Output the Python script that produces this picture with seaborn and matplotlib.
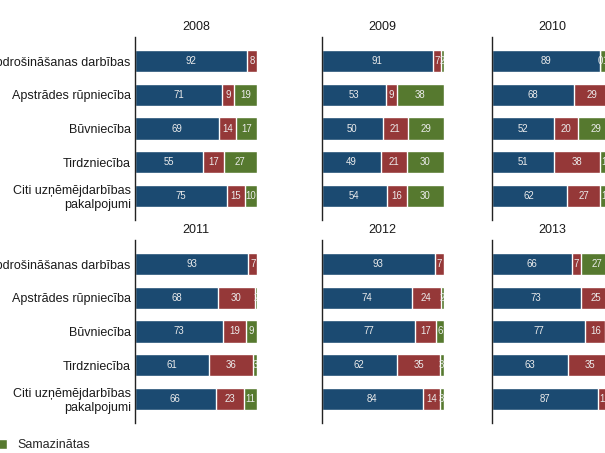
import numpy as np
import pandas as pd
import matplotlib
matplotlib.use("Agg")
import matplotlib.pyplot as plt
import seaborn as sns
from matplotlib.patches import Patch

# ---- data ----
categories = ["Finanšu un apdrošināšanas darbības", "Apstrādes rūpniecība", "Būvniecība",
              "Tirdzniecība", "Citi uzņēmējdarbības\npakalpojumi"]
years = ["2008", "2009", "2010", "2011", "2012", "2013"]
series_names = ["Nemainīgas", "Palielinātas", "Samazinātas"]

nemainigas = [[92, 71, 69, 55, 75], [91, 53, 50, 49, 54], [89, 68, 52, 51, 62],
              [93, 68, 73, 61, 66], [93, 74, 77, 62, 84], [66, 73, 77, 63, 87]]
palielinatas = [[8, 9, 14, 17, 15], [7, 9, 21, 21, 16], [0.4, 29, 20, 38, 27],
                [7, 30, 19, 36, 23], [7, 24, 17, 35, 14], [7, 25, 16, 35, 12]]
samazinatas = [[0, 19, 17, 27, 10], [2, 38, 29, 30, 30], [11, 3, 29, 11, 11],
               [0, 2, 9, 3, 11], [0, 2, 6, 3, 3], [27, 2, 7, 2, 1]]

colors = ["#1b4a71", "#953838", "#56792f"]

sns.set_theme(style="white")
plt.rcParams["font.family"] = ["Liberation Sans", "DejaVu Sans"]

fig = plt.figure(figsize=(6.05, 4.53), dpi=100)
W, H = 605, 453
col_left = [135, 321.5, 491.5]
row_top = [37, 240]
ax_w, ax_h = 122, 183

for k, year in enumerate(years):
    r, c = divmod(k, 3)
    ax = fig.add_axes([col_left[c] / W, 1 - (row_top[r] + ax_h) / H, ax_w / W, ax_h / H])
    b = np.array(nemainigas[k], float)
    rd = np.array(palielinatas[k], float)
    g = np.array(samazinatas[k], float)
    tot = b + rd + g
    df = pd.DataFrame({"cat": categories,
                       "c1": b / tot * 100,
                       "c2": (b + rd) / tot * 100,
                       "c3": tot / tot * 100})
    for col, colr in zip(["c3", "c2", "c1"], colors[::-1]):
        sns.barplot(data=df, y="cat", x=col, color=colr, width=0.66, saturation=1,
                    errorbar=None, orient="h", ax=ax)
    # value labels
    lefts = [np.zeros(5), df["c1"].values, df["c2"].values]
    rights = [df["c1"].values, df["c2"].values, df["c3"].values]
    vals = [b, rd, g]
    for s in range(3):
        for i in range(5):
            if vals[s][i] == 0:
                continue
            ax.text((lefts[s][i] + rights[s][i]) / 2, i, f"{vals[s][i]:.0f}",
                    ha="center", va="center", color="#ececec", fontsize=6.9, clip_on=True)
    ax.set_xlim(0, 100)
    ax.set_ylim(4.72, -0.72)
    ax.set_xlabel("")
    ax.set_ylabel("")
    ax.set_xticks([])
    ax.tick_params(axis="y", length=0, pad=3, labelsize=9, labelcolor="#1a1a1a")
    if c != 0:
        ax.set_yticklabels([])
    sns.despine(ax=ax, top=True, right=True, bottom=True, left=False)
    ax.spines["left"].set_color("#222222")
    ax.spines["left"].set_linewidth(1.0)
    ax.set_title(year, fontsize=9, color="#1a1a1a", pad=5)

handles = [Patch(facecolor=colors[i], label=series_names[i]) for i in range(3)]
fig.legend(handles=handles, loc="center right", bbox_to_anchor=(0.157, 0.0177), ncol=3,
           frameon=False, fontsize=9, handlelength=0.85, handleheight=0.85,
           handletextpad=0.85, columnspacing=1.5, borderaxespad=0)

fig.savefig("out.png", dpi=100)
